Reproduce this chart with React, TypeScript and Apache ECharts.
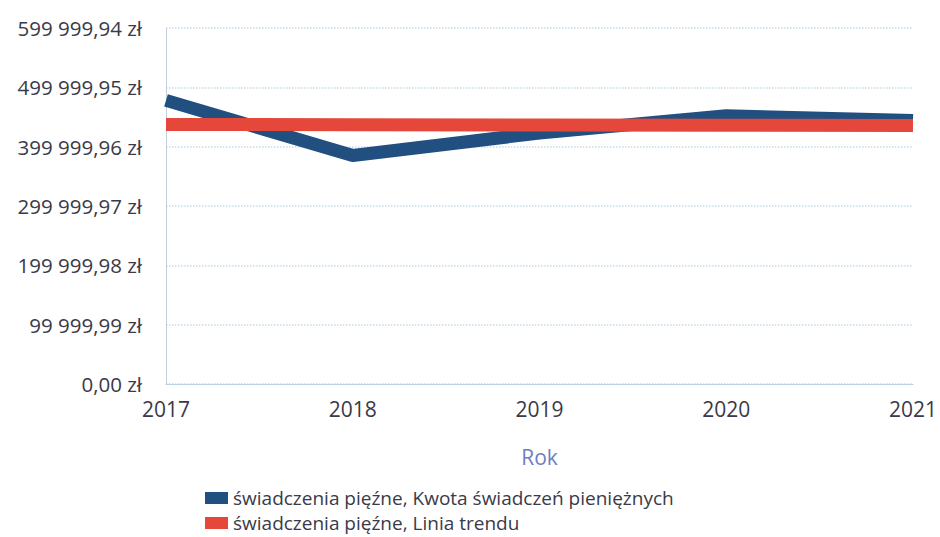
import React, { useEffect, useRef } from "react";
import * as echarts from "echarts";

const years = ["2017", "2018", "2019", "2020", "2021"];
const amounts = [478000, 385000, 423000, 452000, 444000];
const trend = [437500, 437000, 436500, 436000, 435500];
const seriesNames = [
  "świadczenia pięźne, Kwota świadczeń pieniężnych",
  "świadczenia pięźne, Linia trendu",
];
const yMax = 599999.94;
const yStep = 99999.99;

function formatPln(v: number): string {
  const s = v.toFixed(2);
  const [i, d] = s.split(".");
  return i.replace(/\B(?=(\d{3})+(?!\d))/g, " ") + "," + d + " zł";
}

export default function App() {
  const ref = useRef<HTMLDivElement>(null);
  useEffect(() => {
    if (!ref.current) return;
    const chart = echarts.init(ref.current, undefined, { renderer: "svg" });
    const font = "'Open Sans', sans-serif";
    chart.setOption({
      animation: false,
      backgroundColor: "#ffffff",
      textStyle: { fontFamily: font },
      grid: { left: 166, right: 13, top: 28, bottom: 153, containLabel: false },
      legend: {
        left: 205,
        top: 486,
        height: 51,
        padding: 0,
        orient: "vertical",
        itemGap: 1,
        itemWidth: 23,
        itemHeight: 12,
        icon: "rect",
        textStyle: { fontSize: 19, lineHeight: 24, color: "#3a3a48", fontFamily: font },
        data: seriesNames,
      },
      xAxis: {
        type: "category",
        data: years,
        boundaryGap: false,
        name: "Rok",
        nameLocation: "middle",
        nameGap: 62,
        nameTextStyle: { color: "#6b80c0", fontSize: 21, fontFamily: font },
        axisLine: { show: true, lineStyle: { color: "#bcd2e2", width: 1 } },
        axisTick: { show: false },
        axisLabel: { color: "#3a3a48", fontSize: 21, margin: 14, fontFamily: font },
        splitLine: { show: false },
      },
      yAxis: {
        type: "value",
        min: 0,
        max: yMax,
        interval: yStep,
        axisLine: { show: true, lineStyle: { color: "#b8c4dc", type: "dotted", width: 1 } },
        axisTick: { show: false },
        axisLabel: {
          color: "#3a3a48",
          fontSize: 20.5,
          margin: 24,
          fontFamily: font,
          formatter: (v: number) => formatPln(v),
        },
        splitLine: { show: true, lineStyle: { color: "#c6dbe8", type: "dotted", width: 1.5 } },
      },
      series: [
        {
          name: seriesNames[0],
          type: "line",
          data: amounts,
          symbol: "none",
          lineStyle: { color: "#204f80", width: 13 },
          itemStyle: { color: "#204f80" },
          z: 2,
        },
        {
          name: seriesNames[1],
          type: "line",
          data: trend,
          symbol: "none",
          lineStyle: { color: "#e5483a", width: 13 },
          itemStyle: { color: "#e5483a" },
          z: 3,
        },
      ],
    });
    return () => chart.dispose();
  }, []);
  return (
    <div
      ref={ref}
      style={{ position: "absolute", left: 0, top: 0, width: 940, height: 537 }}
    />
  );
}
